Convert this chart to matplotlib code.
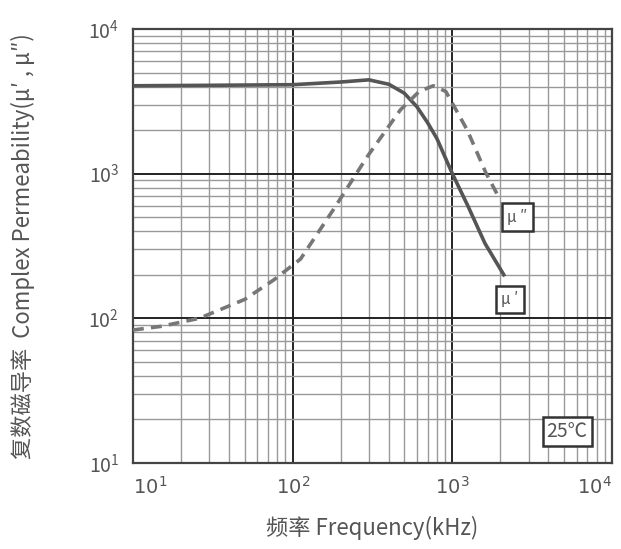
import matplotlib
matplotlib.use("Agg")
import matplotlib.pyplot as plt
from matplotlib.ticker import LogLocator, FixedLocator, NullFormatter

plt.rcParams['font.family'] = ['Noto Sans CJK SC', 'DejaVu Sans']

# mu' (solid)
f_real = [10, 30, 100, 200, 300, 400, 500, 600, 700, 800, 1000, 1250, 1600, 2100]
mu_real = [4050, 4080, 4120, 4300, 4450, 4150, 3600, 2900, 2250, 1750, 1000, 600, 330, 200]

# mu'' (dashed)
f_imag = [10, 15, 26, 50, 76, 112, 180, 293, 473, 620, 760, 910, 1240, 1620, 1950]
mu_imag = [83, 88, 100, 135, 184, 257, 565, 1310, 2760, 3700, 4050, 3700, 2000, 1016, 690]

xticks = [10, 100, 1000, 10000]
yticks = [10, 100, 1000, 10000]
xlabels = ['$10^1$', '$10^2$', '$10^3$', '$10^4$']

fig = plt.figure(figsize=(6.21, 5.49), dpi=100)
ax = fig.add_axes([0.2142, 0.1567, 0.7713, 0.7905])
ax.set_xscale('log')
ax.set_yscale('log')
ax.set_xlim(10, 1e4)
ax.set_ylim(10, 1e4)

ax.xaxis.set_major_locator(FixedLocator(xticks))
ax.yaxis.set_major_locator(FixedLocator(yticks))
ax.set_xticklabels(xlabels)
ax.xaxis.set_minor_locator(LogLocator(base=10, subs=range(2, 10)))
ax.yaxis.set_minor_locator(LogLocator(base=10, subs=range(2, 10)))
ax.xaxis.set_minor_formatter(NullFormatter())
ax.yaxis.set_minor_formatter(NullFormatter())
ax.grid(which='major', color='#222222', lw=1.4)
ax.grid(which='minor', color='#999999', lw=1.0)
ax.tick_params(which='both', length=0, labelsize=14, colors='#555555', pad=10)
xtl = ax.get_xticklabels()
xtl[0].set_ha('left')
xtl[-1].set_ha('right')
for s in ax.spines.values():
    s.set_color('#444444')
    s.set_linewidth(1.6)

ax.plot(f_real, mu_real, color='#555555', lw=2.6, zorder=3)
ax.plot(f_imag, mu_imag, color='#777777', lw=2.6, ls=(0, (3, 2)), zorder=3)

box = dict(boxstyle='square,pad=0.35', fc='white', ec='#333333', lw=1.8)
ax.text(2550, 500, "μ ″", fontsize=11, color='#555555', ha='center', va='center', bbox=box, zorder=4)
ax.text(2300, 135, "μ ′", fontsize=11, color='#555555', ha='center', va='center', bbox=box, zorder=4)
ax.text(5240, 16.6, "25℃", fontsize=14, color='#555555', ha='center', va='center',
        bbox=dict(boxstyle='square,pad=0.2', fc='white', ec='#333333', lw=1.8), zorder=4)

ax.set_xlabel("频率 Frequency(kHz)", fontsize=16, color='#555555', labelpad=12)
ax.set_ylabel("复数磁导率  Complex Permeability(μ′ , μ″)", fontsize=16, color='#555555', labelpad=38)

fig.savefig("out.png", dpi=100)
